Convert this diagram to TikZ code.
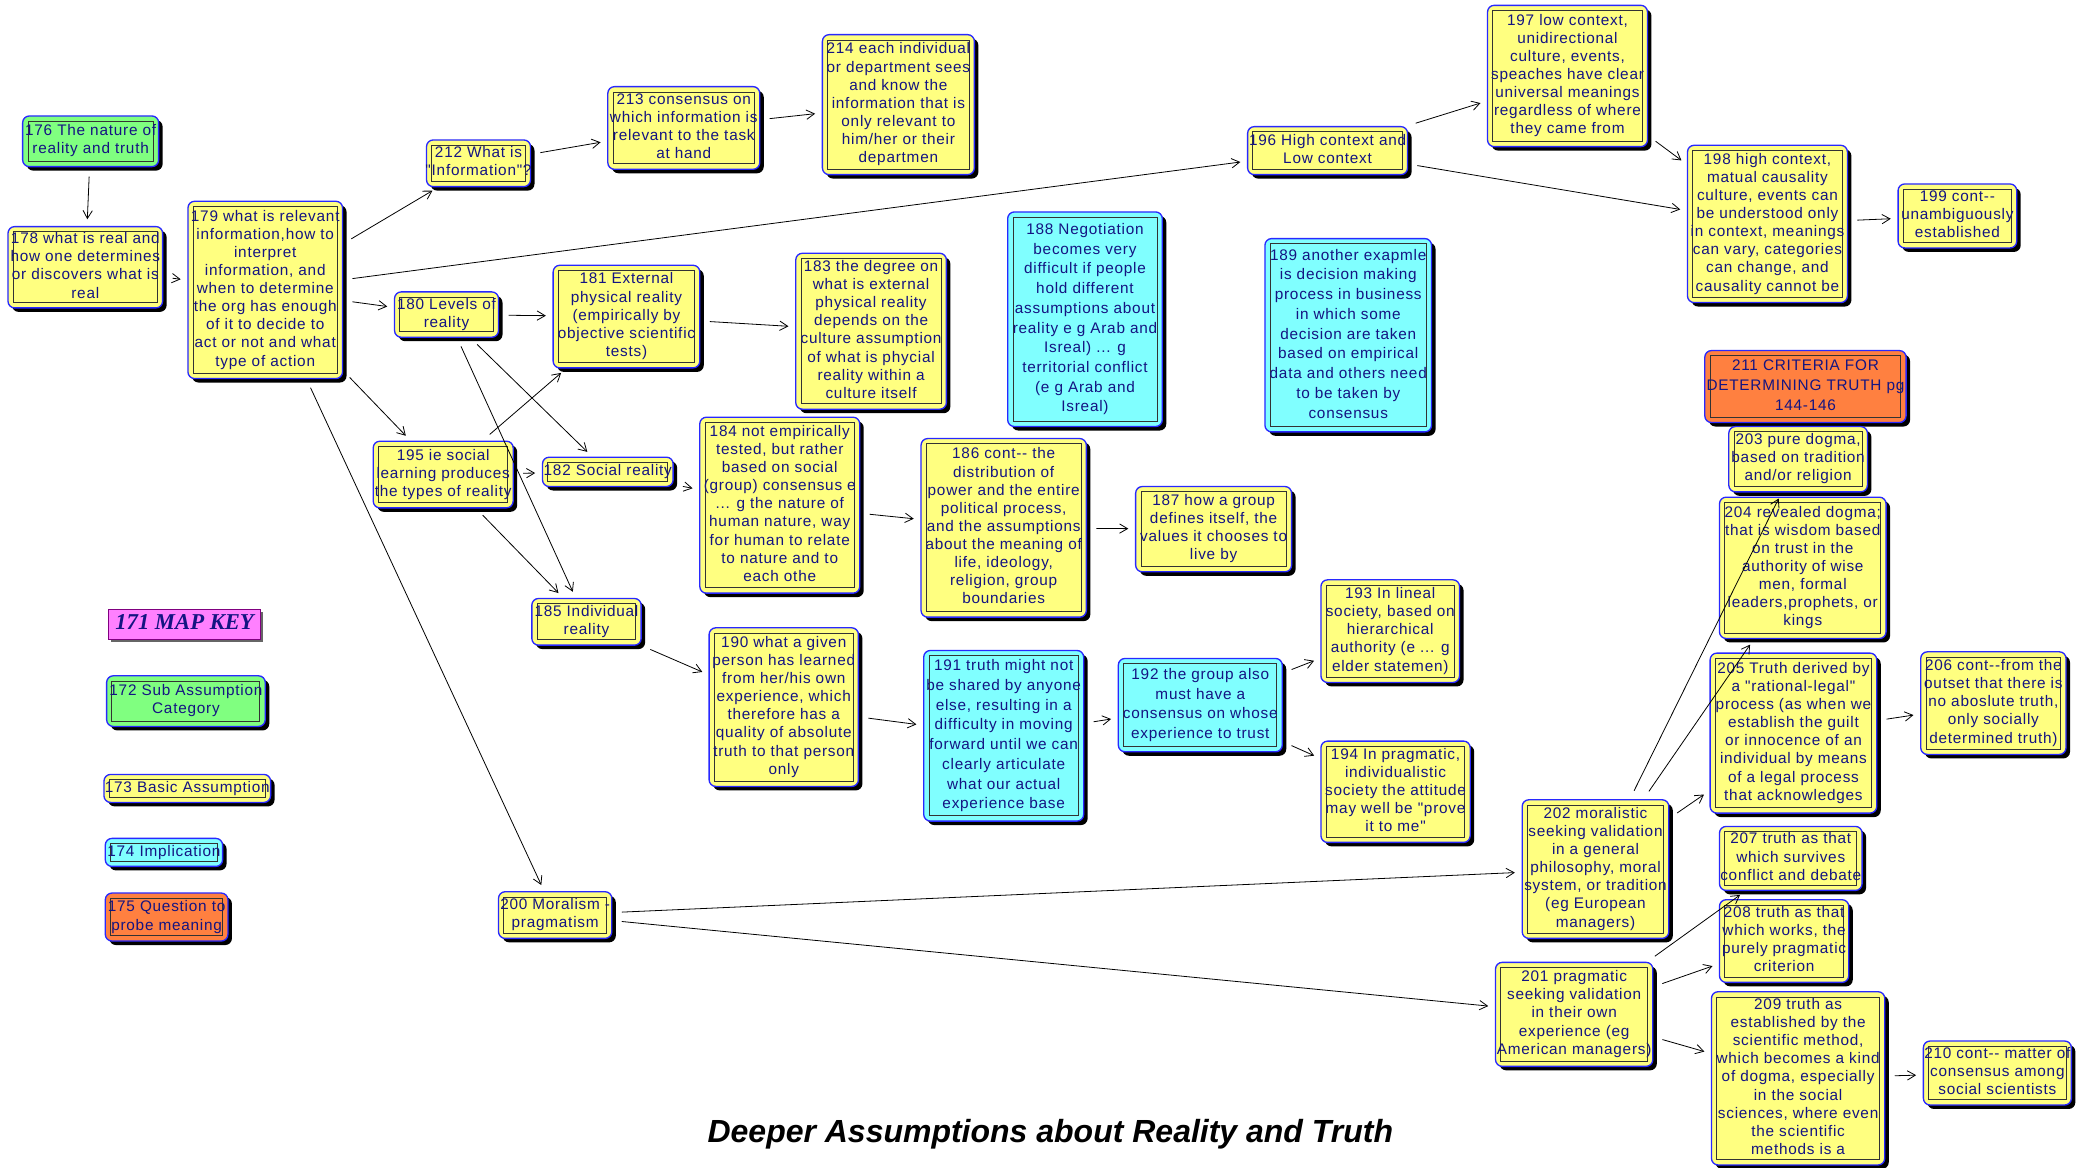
\documentclass[tikz,border=0pt]{standalone}
\usepackage{fontspec}
\setmainfont{Liberation Sans}
\newfontfamily\mapfont{Liberation Sans}[LetterSpace=5]
\newfontfamily\keyfont{Liberation Serif}
\usetikzlibrary{arrows.meta, shadows}

\definecolor{cyel}{RGB}{255,255,128}
\definecolor{cgrn}{RGB}{128,255,128}
\definecolor{ccyn}{RGB}{128,255,255}
\definecolor{corg}{RGB}{255,128,64}
\definecolor{cpnk}{RGB}{255,128,255}
\definecolor{cedge}{RGB}{40,40,255}
\definecolor{ctxt}{RGB}{20,20,130}

% centred lines that may run past the box edge
\newcommand{\ml}[1]{\makebox[0pt]{\begin{tabular}{@{}c@{}}#1\end{tabular}}}

\tikzset{
  concept/.style={rectangle, rounded corners=5pt, draw=cedge, line width=1pt,
    fill=cyel, text=ctxt, font=\mapfont\fontsize{11.5}{13.6}\selectfont, inner sep=0pt,
    drop shadow={shadow xshift=3pt, shadow yshift=-3pt, fill=black, opacity=1},
    path picture={\draw[black!80, line width=0.7pt, sharp corners]
      ([shift={(4pt,-4pt)}]path picture bounding box.north west) rectangle
      ([shift={(-4pt,4pt)}]path picture bounding box.south east);}},
  sub/.style={concept, fill=cgrn},
  impl/.style={concept, fill=ccyn, font=\mapfont\fontsize{11.5}{14.8}\selectfont},
  ask/.style={concept, fill=corg, font=\mapfont\fontsize{11.5}{14.8}\selectfont},
  keyhead/.style={rectangle, draw=violet, line width=0.8pt, fill=cpnk, text=ctxt,
    font=\keyfont\bfseries\itshape\fontsize{17}{19}\selectfont, inner sep=0pt,
    drop shadow={shadow xshift=2pt, shadow yshift=-2pt, fill=black!60, opacity=1}},
  link/.style={->, black, line width=0.6pt, shorten <=7pt, shorten >=5pt}
}

\begin{document}
\begin{tikzpicture}[x=1pt, y=-1pt, >={Straight Barb[length=6pt,width=7pt]}]
\useasboundingbox (0,0) rectangle (1568,876);

% nature of reality
\node[sub, minimum width=102pt, minimum height=38pt] (r176) at (68,106) {\ml{176 The nature of\\reality and truth}};
\node[concept, minimum width=116pt, minimum height=61pt] (r178) at (64,200.5) {\ml{178 what is real and\\how one determines\\or discovers what is\\real}};
\node[concept, minimum width=116pt, minimum height=133pt] (r179) at (199,217.5) {\ml{179 what is relevant\\information,how to\\interpret\\information, and\\when to determine\\the org has enough\\of it to decide to\\act or not and what\\type of action}};

% information
\node[concept, minimum width=78pt, minimum height=35pt] (r212) at (359,122.5) {\ml{212 What is\\"Information"?}};
\node[concept, minimum width=114pt, minimum height=62pt] (r213) at (513,96) {\ml{213 consensus on\\which information is\\relevant to the task\\at hand}};
\node[concept, minimum width=114pt, minimum height=105pt] (r214) at (674,78.5) {\ml{214 each individual\\or department sees\\and know the\\information that is\\only relevant to\\him/her or their\\departmen}};

% context
\node[concept, minimum width=120pt, minimum height=36pt] (r196) at (996,113) {\ml{196 High context and\\Low context}};
\node[concept, minimum width=120pt, minimum height=106pt] (r197) at (1176,57) {\ml{197 low context,\\unidirectional\\culture, events,\\speaches have clear\\universal meanings\\regardless of where\\they came from}};
\node[concept, minimum width=120pt, minimum height=118pt] (r198) at (1326,168) {\ml{198 high context,\\matual causality\\culture, events can\\be understood only\\in context, meanings\\can vary, categories\\can change, and\\causality cannot be}};
\node[concept, minimum width=89pt, minimum height=48pt] (r199) at (1468.5,162) {\ml{199 cont-{}-\\unambiguously\\established}};

% levels of reality
\node[concept, minimum width=78pt, minimum height=34pt] (r180) at (335,236) {\ml{180 Levels of\\reality}};
\node[concept, minimum width=110pt, minimum height=77pt] (r181) at (470,237.5) {\ml{181 External\\physical reality\\(empirically by\\objective scientific\\tests)}};
\node[concept, minimum width=113pt, minimum height=117pt] (r183) at (653.5,248.5) {\ml{183 the degree on\\what is external\\physical reality\\depends on the\\culture assumption\\of what is phycial\\reality within a\\culture itself}};
\node[impl, minimum width=116pt, minimum height=161pt] (r188) at (814,239.5) {\ml{188 Negotiation\\becomes very\\difficult if people\\hold different\\assumptions about\\reality e g Arab and\\Isreal) ... g\\territorial conflict\\(e g Arab and\\Isreal)}};
\node[impl, minimum width=125pt, minimum height=145pt] (r189) at (1011.5,251.5) {\ml{189 another exapmle\\is decision making\\process in business\\in which some\\decision are taken\\based on empirical\\data and others need\\to be taken by\\consensus}};
\node[concept, minimum width=120pt, minimum height=132pt] (r184) at (585,379) {\ml{184 not empirically\\tested, but rather\\based on social\\(group) consensus e\\... g the nature of\\human nature, way\\for human to relate\\to nature and to\\each othe}};
\node[concept, minimum width=124pt, minimum height=134pt] (r186) at (753,396) {\ml{186 cont-{}- the\\distribution of\\power and the entire\\political process,\\and the assumptions\\about the meaning of\\life, ideology,\\religion, group\\boundaries}};
\node[concept, minimum width=117pt, minimum height=64pt] (r187) at (910.5,397) {\ml{187 how a group\\defines itself, the\\values it chooses to\\live by}};
\node[concept, minimum width=105pt, minimum height=50pt] (r195) at (332.5,356) {\ml{195 ie social\\learning produces\\the types of reality}};
\node[concept, minimum width=98pt, minimum height=22pt] (r182) at (456,354) {\ml{182 Social reality}};
\node[concept, minimum width=82pt, minimum height=35pt] (r185) at (440,466.5) {\ml{185 Individual\\reality}};
\node[concept, minimum width=112pt, minimum height=119pt] (r190) at (588,530.5) {\ml{190 what a given\\person has learned\\from her/his own\\experience, which\\therefore has a\\quality of absolute\\truth to that person\\only}};
\node[impl, minimum width=120pt, minimum height=128pt] (r191) at (753,552) {\ml{191 truth might not\\be shared by anyone\\else, resulting in a\\difficulty in moving\\forward until we can\\clearly articulate\\what our actual\\experience base}};
\node[impl, minimum width=123pt, minimum height=70pt] (r192) at (900.5,529) {\ml{192 the group also\\must have a\\consensus on whose\\experience to trust}};
\node[concept, minimum width=104pt, minimum height=77pt] (r193) at (1043,473.5) {\ml{193 In lineal\\society, based on\\hierarchical\\authority (e ... g\\elder statemen)}};
\node[concept, minimum width=112pt, minimum height=76pt] (r194) at (1047,594) {\ml{194 In pragmatic,\\individualistic\\society the attitude\\may well be "prove\\it to me"}};

% moralism and pragmatism
\node[concept, minimum width=85pt, minimum height=35pt] (r200) at (416.5,686.5) {\ml{200 Moralism -\\pragmatism}};
\node[concept, minimum width=110pt, minimum height=104pt] (r202) at (1197,652) {\ml{202 moralistic\\seeking validation\\in a general\\philosophy, moral\\system, or tradition\\(eg European\\managers)}};
\node[concept, minimum width=118pt, minimum height=78pt] (r201) at (1181,761) {\ml{201 pragmatic\\seeking validation\\in their own\\experience (eg\\American managers)}};

% criteria for truth
\node[ask, minimum width=151pt, minimum height=54pt] (r211) at (1354.5,290) {\ml{211 CRITERIA FOR\\DETERMINING TRUTH pg\\144-146}};
\node[concept, minimum width=104pt, minimum height=49pt] (r203) at (1349,344.5) {\ml{203 pure dogma,\\based on tradition\\and/or religion}};
\node[concept, minimum width=125pt, minimum height=106pt] (r204) at (1352.5,426) {\ml{204 revealed dogma;\\that is wisdom based\\on trust in the\\authority of wise\\men, formal\\leaders,prophets, or\\kings}};
\node[concept, minimum width=125pt, minimum height=120pt] (r205) at (1345.5,550) {\ml{205 Truth derived by\\a "rational-legal"\\process (as when we\\establish the guilt\\or innocence of an\\individual by means\\of a legal process\\that acknowledges}};
\node[concept, minimum width=109pt, minimum height=77pt] (r206) at (1495.5,527.5) {\ml{206 cont-{}-from the\\outset that there is\\no aboslute truth,\\only socially\\determined truth)}};
\node[concept, minimum width=107pt, minimum height=48pt] (r207) at (1343.5,644) {\ml{207 truth as that\\which survives\\conflict and debate}};
\node[concept, minimum width=97pt, minimum height=62pt] (r208) at (1338.5,706) {\ml{208 truth as that\\which works, the\\purely pragmatic\\criterion}};
\node[concept, minimum width=130pt, minimum height=130pt] (r209) at (1349,809) {\ml{209 truth as\\established by the\\scientific method,\\which becomes a kind\\of dogma, especially\\in the social\\sciences, where even\\the scientific\\methods is a}};
\node[concept, minimum width=111pt, minimum height=48pt] (r210) at (1498.5,805) {\ml{210 cont-{}- matter of\\consensus among\\social scientists}};

% map key
\node[keyhead, minimum width=114pt, minimum height=22pt] (k171) at (138.5,468.5) {\ml{171 MAP KEY}};
\node[sub, minimum width=119pt, minimum height=38pt] (k172) at (139.5,526) {\ml{172 Sub Assumption\\Category}};
\node[concept, minimum width=125pt, minimum height=21pt] (k173) at (140.5,591.5) {\ml{173 Basic Assumption}};
\node[impl, minimum width=88pt, minimum height=21pt] (k174) at (123,639.5) {\ml{174 Implication}};
\node[ask, minimum width=92pt, minimum height=36pt] (k175) at (125,688) {\ml{175 Question to\\probe meaning}};

\node[font=\bfseries\itshape\fontsize{24}{28}\selectfont] (title) at (788,851) {Deeper Assumptions about Reality and Truth};

% links
\draw[link] (r176) -- (r178);
\draw[link] (r178) -- (r179);
\draw[link] (r179) -- (r212);
\draw[link] (r179) -- (r196);
\draw[link] (r179) -- (r180);
\draw[link] (r179) -- (r195);
\draw[link] (r179) -- (r200);
\draw[link] (r212) -- (r213);
\draw[link] (r213) -- (r214);
\draw[link] (r196) -- (r197);
\draw[link] (r196) -- (r198);
\draw[link] (r197) -- (r198);
\draw[link] (r198) -- (r199);
\draw[link] (r180) -- (r181);
\draw[link] (r181) -- (r183);
\draw[link] (r180) -- (r182);
\draw[link] (r180) -- (r185);
\draw[link] (r195) -- (r181);
\draw[link] (r195) -- (r182);
\draw[link] (r195) -- (r185);
\draw[link] (r182) -- (r184);
\draw[link] (r184) -- (r186);
\draw[link] (r186) -- (r187);
\draw[link] (r185) -- (r190);
\draw[link] (r190) -- (r191);
\draw[link] (r191) -- (r192);
\draw[link] (r192) -- (r193);
\draw[link] (r192) -- (r194);
\draw[link] (r200) -- (r202);
\draw[link] (r200) -- (r201);
\draw[link] (r202) -- (r203);
\draw[link] (r202) -- (r204);
\draw[link] (r202) -- (r205);
\draw[link] (r205) -- (r206);
\draw[link] (r201) -- (r207);
\draw[link] (r201) -- (r208);
\draw[link] (r201) -- (r209);
\draw[link] (r209) -- (r210);
\end{tikzpicture}
\end{document}
